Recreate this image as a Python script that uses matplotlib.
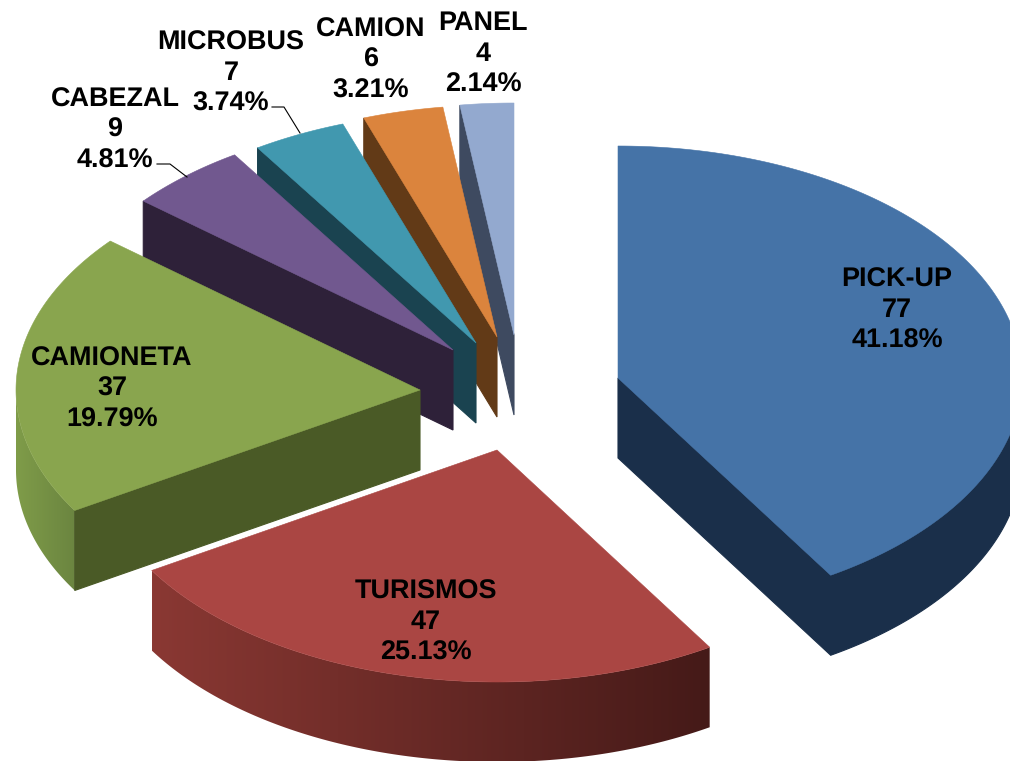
import numpy as np
import matplotlib
matplotlib.use("Agg")
import matplotlib.pyplot as plt
from matplotlib.colors import to_rgb
from matplotlib.patches import Polygon

plt.rcParams["text.hinting"] = "none"
plt.rcParams["text.hinting_factor"] = 1

categories = ["PICK-UP", "TURISMOS", "CAMIONETA", "CABEZAL", "MICROBUS", "CAMION", "PANEL"]
values = [77, 47, 37, 9, 7, 6, 4]

top_colors = ["#4573A7", "#AA4643", "#89A54E", "#71588F", "#4198AF", "#DB843D", "#93A9CF"]
face_colors = ["#1A2F4A", "#451A18", "#4A5A26", "#2E2139", "#1A4350", "#623A17", "#3E4A60"]
rim_left = ["#1A2F4A", "#8A3833", "#7F9C49", "#2E2139", "#1A4350", "#623A17", "#3E4A60"]
rim_right = ["#1A2F4A", "#451A18", "#6B8540", "#2E2139", "#1A4350", "#623A17", "#3E4A60"]

apex_x = [618, 497, 420, 453, 476, 497, 514]
apex_y = [378, 450, 390, 350, 343, 337, 335]
label_x = [897, 426, 112, 115, 231, 371, 483]
label_y = [310, 622, 389, 130, 73, 60, 54]
RX, RY, DEPTH = 404, 232, 80

fig = plt.figure(figsize=(10.1, 7.61), dpi=100)
ax = fig.add_axes([0, 0, 1, 1])
ax.axis("off")

total = sum(values)
edges = 2 * np.pi * np.concatenate([[0], np.cumsum(values)]) / total


def rim(i, a, b, n=160):
    t = np.linspace(a, b, n)
    return apex_x[i] + RX * np.sin(t), apex_y[i] - RY * np.cos(t)


def extrude(x, y, color, z):
    ax.fill(np.r_[x, x[::-1]], np.r_[y, y[::-1] + DEPTH], color=color, lw=0.8, zorder=z)


for z, i in enumerate(range(len(values) - 1, -1, -1)):
    a, b = edges[i], edges[i + 1]
    base = z * 10
    px, py = apex_x[i], apex_y[i]
    # cut face that looks toward the viewer
    ex, ey = rim(i, b, b, 1) if i == 0 else rim(i, a, a, 1)
    if i != 1:
        extrude(np.array([px, ex[0]]), np.array([py, ey[0]]), face_colors[i], base + 2)
    # curved wall: only the part on the front half of the ellipse
    lo, hi = max(a, np.pi / 2), min(b, 3 * np.pi / 2)
    if hi > lo:
        xs, ys = rim(i, lo, hi, 121)
        if rim_left[i] == rim_right[i]:
            extrude(xs, ys, rim_left[i], base + 1)
        else:
            xmin, xmax = xs.min(), xs.max()
            c0, c1 = np.array(to_rgb(rim_left[i])), np.array(to_rgb(rim_right[i]))
            ramp = np.linspace(0, 1, 256)[None, :, None]
            grad = c0[None, None, :] + (c1 - c0)[None, None, :] * ramp
            im = ax.imshow(grad, extent=[xmin, xmax, ys.max() + DEPTH, ys.min()],
                           aspect="auto", zorder=base + 1, interpolation="bilinear")
            clip = Polygon(np.c_[np.r_[xs, xs[::-1]], np.r_[ys, ys[::-1] + DEPTH]],
                           closed=True, transform=ax.transData, fc="none", ec="none")
            ax.add_patch(clip)
            im.set_clip_path(clip)
    # top surface
    tx, ty = rim(i, a, b)
    ax.fill(np.r_[px, tx], np.r_[py, ty], color=top_colors[i], lw=0.4, zorder=base + 3)

for name, v, x, y in zip(categories, values, label_x, label_y):
    ax.text(x, y, f"{name}\n{v}\n{100 * v / total:.2f}%", ha="center", va="center",
            family=["Liberation Sans"], weight="bold", fontsize=19.1, linespacing=1.28,
            color="black", zorder=200)

ax.plot([157, 170, 187], [164, 164, 177], color="black", lw=0.8, zorder=190)
ax.plot([272, 284, 300], [107, 107, 133], color="black", lw=0.8, zorder=190)

ax.set_xlim(0, 1010)
ax.set_ylim(761, 0)

fig.savefig("out.png", dpi=100, facecolor="white")
